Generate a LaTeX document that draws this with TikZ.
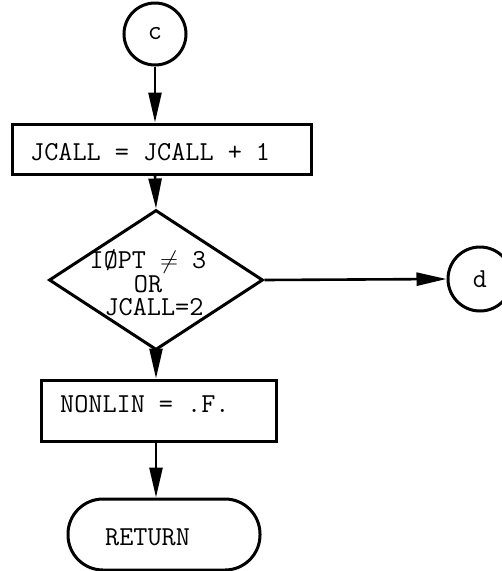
\documentclass[tikz,border=0pt]{standalone}
\usepackage{fontspec}
\usetikzlibrary{arrows.meta,shapes.geometric}
\begin{document}
\begin{tikzpicture}[x=1pt,y=-1pt,
  every node/.style={font=\ttfamily\fontsize{27.4}{24}\selectfont},
  conn/.style={line width=2.6pt,-{Triangle[length=30pt,width=13pt]}},
  procbox/.style={draw,line width=3pt,inner sep=0pt},
  connector/.style={draw,circle,line width=3pt,inner sep=0pt},
  txt/.style={inner sep=0pt,anchor=base west},
  ctxt/.style={inner sep=0pt,anchor=base}
]
\useasboundingbox (0,0) rectangle (502,571);
\clip (0,0) rectangle (502,571);
% connector c
\node[connector,minimum size=62pt] (c) at (155,34) {c};
% box 1
\node[procbox,minimum width=299pt,minimum height=50pt] (b1) at (161.5,149) {};
\node[txt] (t1) at (30,160) {JCALL = JCALL + 1};
% diamond
\node[draw,diamond,line width=3pt,minimum width=214pt,minimum height=140pt,inner sep=0pt] (dm) at (156,280) {};
\node[ctxt] (dt1) at (148,268) {IØPT $\neq$ 3};
\node[ctxt] (dt2) at (148,292) {OR};
\node[ctxt] (dt3) at (154,315) {JCALL=2};
% connector d
\node[connector,minimum size=64pt] (d) at (480,279) {d};
% box 2
\node[procbox,minimum width=235pt,minimum height=61pt] (b2) at (158.5,410.5) {};
\node[txt] (t2) at (60,412) {NONLIN = .F.};
% return
\node[draw,line width=3pt,rounded corners=35pt,minimum width=192pt,minimum height=71pt,inner sep=0pt] (ret) at (164,534.5) {};
\node[txt] (t3) at (105,545) {RETURN};
% connectors
\draw[conn] (c.south) -- (c.south |- b1.north);
\draw[conn] (c.south |- b1.south) -- (dm.north);
\draw[conn] (dm.east) -- (d.west);
\draw[conn] (dm.south) -- (dm.south |- b2.north);
\draw[conn] (dm.south |- b2.south) -- (dm.south |- ret.north);
\end{tikzpicture}
\end{document}
